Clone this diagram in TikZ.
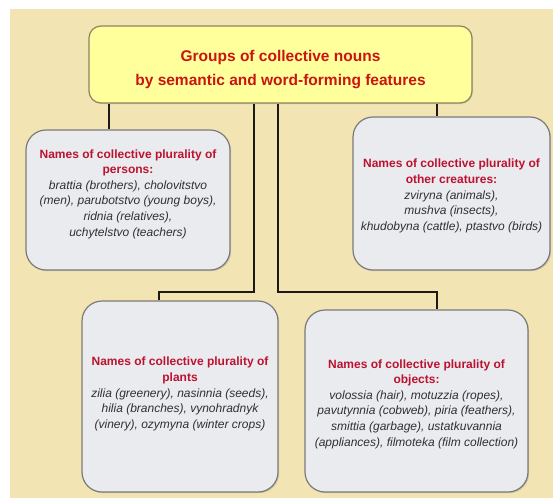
\documentclass[tikz,border=0pt]{standalone}
\usepackage{fontspec}
\setmainfont{Liberation Sans}
\usetikzlibrary{shadows}
\definecolor{bgbeige}{HTML}{F3E4B3}
\definecolor{topfill}{HTML}{FFFF9C}
\definecolor{topedge}{HTML}{8A8560}
\definecolor{boxfill}{HTML}{EAEBEE}
\definecolor{boxedge}{HTML}{7A7A7A}
\definecolor{titlered}{HTML}{CC1411}
\definecolor{headred}{HTML}{BC1230}
\definecolor{bodygray}{HTML}{303030}
\definecolor{linecol}{HTML}{1C1A16}
\tikzset{
  topbox/.style={draw=topedge, line width=1.2pt, fill=topfill, rounded corners=12pt,
    inner sep=0pt, drop shadow={shadow xshift=1pt, shadow yshift=-1pt, opacity=0.25}},
  titletext/.style={align=center, inner sep=0pt, font=\fontsize{15.5}{24}\selectfont\bfseries, text=titlered},
  groupbox/.style={draw=boxedge, line width=1.2pt, fill=boxfill, rounded corners=20pt,
    inner sep=0pt, drop shadow={shadow xshift=1.2pt, shadow yshift=-1.2pt, opacity=0.3}},
  grouptext/.style={align=center, inner sep=0pt, font=\fontsize{12}{15.6}\selectfont, text=bodygray},
  conn/.style={draw=linecol, line width=1.7pt},
}
\newcommand{\hd}[1]{{\color{headred}\bfseries #1}}
\begin{document}
\begin{tikzpicture}[x=1pt, y=-1pt]
\useasboundingbox (0,0) rectangle (553,499);
\fill[bgbeige] (10,9) rectangle (553,498);

\node[topbox, minimum width=383pt, minimum height=77pt] (top) at (280.5,64.5) {};
\node[titletext] (toptext) at (280.5,69.5)
  {Groups of collective nouns\\by semantic and word-forming features};

\node[groupbox, minimum width=204pt, minimum height=140pt] (persons) at (128,200) {};
\node[grouptext] (personstext) at (128,194)
  {\hd{Names of collective plurality of}\\\hd{persons:}\\
   \itshape brattia (brothers), cholovitstvo\\\itshape (men), parubotstvo (young boys),\\
   \itshape ridnia (relatives),\\\itshape uchytelstvo (teachers)};

\node[groupbox, minimum width=197pt, minimum height=153pt] (creatures) at (451.5,193.5) {};
\node[grouptext] (creaturestext) at (451.5,196)
  {\hd{Names of collective plurality of}\\\hd{other creatures:}\\
   \itshape zviryna (animals),\\\itshape mushva (insects),\\
   \itshape khudobyna (cattle), ptastvo (birds)};

\node[groupbox, minimum width=196pt, minimum height=191pt] (plants) at (180,396.5) {};
\node[grouptext] (plantstext) at (180,394)
  {\hd{Names of collective plurality of}\\\hd{plants}\\
   \itshape zilia (greenery), nasinnia (seeds),\\\itshape hilia (branches), vynohradnyk\\
   \itshape (vinery), ozymyna (winter crops)};

\node[groupbox, minimum width=223pt, minimum height=182pt] (objects) at (416.5,401) {};
\node[grouptext] (objectstext) at (416.5,404)
  {\hd{Names of collective plurality of}\\\hd{objects:}\\
   \itshape volossia (hair), motuzzia (ropes),\\\itshape pavutynnia (cobweb), piria (feathers),\\
   \itshape smittia (garbage), ustatkuvannia\\\itshape (appliances), filmoteka (film collection)};

\coordinate (v1) at (109,0);
\coordinate (v2) at (254,0);
\coordinate (v3) at (278,0);
\coordinate (v4) at (437,0);
\coordinate (jl) at (159,292);
\coordinate (jr) at (437,292);

\draw[conn] (v1 |- top.south) -- (v1 |- persons.north);
\draw[conn] (v4 |- top.south) -- (v4 |- creatures.north);
\draw[conn] (v2 |- top.south) -- (v2 |- jl) -- (jl) -- (jl |- plants.north);
\draw[conn] (v3 |- top.south) -- (v3 |- jr) -- (jr) -- (jr |- objects.north);
\end{tikzpicture}
\end{document}
